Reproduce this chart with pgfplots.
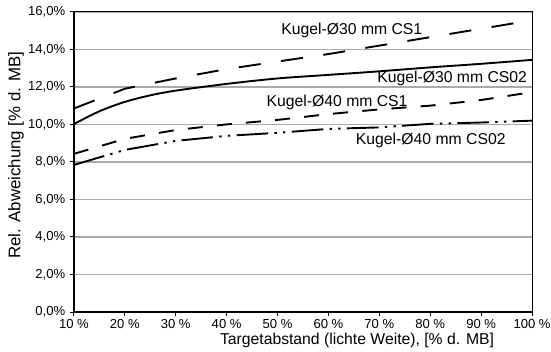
\documentclass[border=0pt]{standalone}
\usepackage{fontspec}
\setmainfont{Liberation Sans}
\usepackage{pgfplots}
\pgfplotsset{compat=1.18}
\definecolor{gridgray}{RGB}{170,170,170}
\begin{document}
\begin{tikzpicture}
\useasboundingbox (-46.8bp,-24.7bp) rectangle (302bp,197.5bp);
\begin{axis}[
  scale only axis,
  width=290bp, height=190bp,
  xmin=10, xmax=100, ymin=0, ymax=16,
  xtick={10,20,...,100},
  xticklabels={10 \%,20 \%,30 \%,40 \%,50 \%,60 \%,70 \%,80 \%,90 \%,100 \%},
  ytick={0,2,...,16},
  yticklabels={{0,0\%},{2,0\%},{4,0\%},{6,0\%},{8,0\%},{10,0\%},{12,0\%},{14,0\%},{16,0\%}},
  tick label style={font=\fontsize{8.3}{10}\selectfont},
  xticklabel style={yshift=1.5bp},
  yticklabel style={xshift=0.5bp},
  tick align=outside,
  major tick length=2.5bp,
  tick style={black, line width=0.6bp},
  xtick pos=bottom, ytick pos=left,
  ymajorgrids, major grid style={gridgray, line width=0.9bp},
  axis line style={black, line width=0.6bp},
  clip=false,
  every axis plot/.append style={line width=1.2bp, black},
]
% Kugel 30 mm CS1
\addplot[dash pattern=on 14bp off 13bp] coordinates {
(10,10.85) (20,11.9) (30,12.45) (40,12.95) (50,13.35) (60,13.75) (70,14.2) (80,14.65) (90,15.1) (100,15.55)};
% Kugel 30 mm CS02
\addplot[smooth] coordinates {
(10,10.02) (15,10.7) (20,11.2) (25,11.55) (30,11.8) (40,12.16) (50,12.45) (60,12.64) (70,12.83) (80,13.04) (90,13.23) (100,13.44)};
% Kugel 40 mm CS1
\addplot[dash pattern=on 9.5bp off 9bp] coordinates {
(10,8.43) (20,9.23) (30,9.7) (40,10.0) (50,10.24) (60,10.55) (70,10.8) (80,11.0) (90,11.3) (100,11.72)};
% Kugel 40 mm CS02
\addplot[dash pattern=on 20bp off 4bp on 1.5bp off 4bp on 1.5bp off 4bp] coordinates {
(10,7.84) (20,8.64) (30,9.12) (40,9.39) (50,9.55) (60,9.76) (70,9.84) (80,10.03) (90,10.1) (100,10.2)};
\draw[black, line width=1.2bp] (rel axis cs:0,1) -- (rel axis cs:0,0) -- (rel axis cs:1,0);
\node[font=\fontsize{10}{12}\selectfont] at (axis cs:64.6,15.0) {Kugel-Ø30 mm CS1};
\node[font=\fontsize{10}{12}\selectfont] at (axis cs:84.3,12.43) {Kugel-Ø30 mm CS02};
\node[font=\fontsize{10}{12}\selectfont] at (axis cs:61.7,11.15) {Kugel-Ø40 mm CS1};
\node[font=\fontsize{10}{12}\selectfont] at (axis cs:80.1,9.17) {Kugel-Ø40 mm CS02};
\node[font=\fontsize{10}{12}\selectfont] at ([yshift=-17.7bp]axis description cs:0.618,0) {Targetabstand (lichte Weite), [\% d. MB]};
\node[font=\fontsize{10.7}{12}\selectfont, rotate=90] at ([xshift=-36.7bp]axis description cs:0,0.523) {Rel. Abweichung [\% d. MB]};
\end{axis}
\end{tikzpicture}
\end{document}
